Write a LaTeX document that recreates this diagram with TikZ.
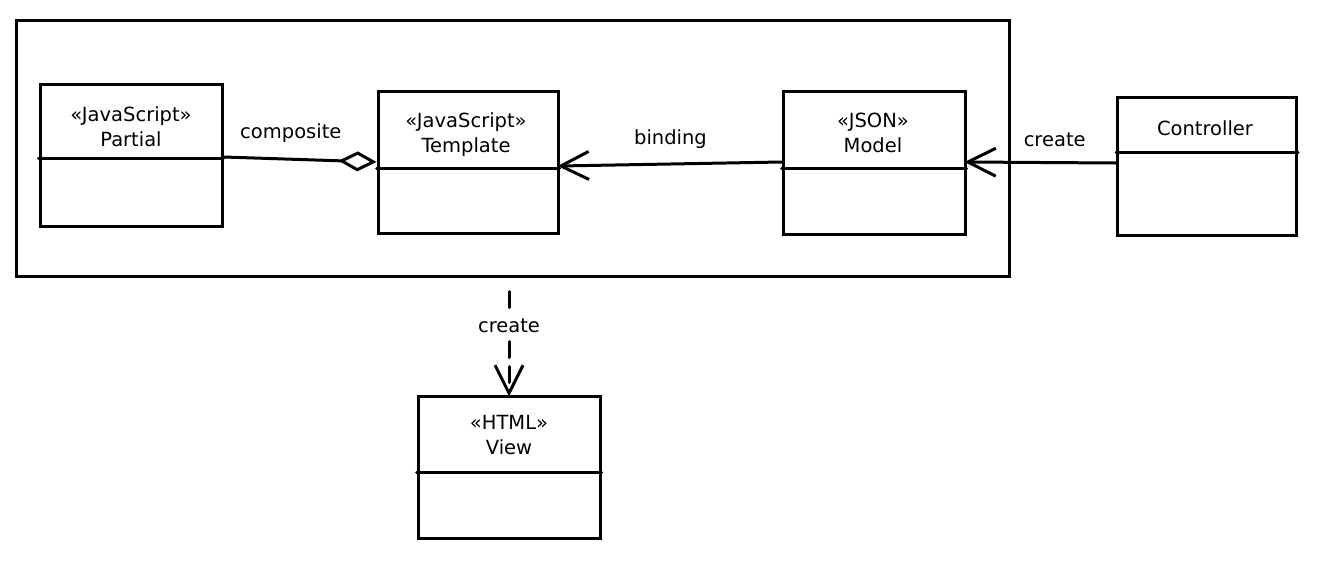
\documentclass[tikz,border=0pt]{standalone}
\usepackage{fontspec}
\setmainfont{DejaVu Sans}
\usetikzlibrary{arrows.meta, positioning}

\begin{document}
\begin{tikzpicture}[x=1pt, y=-1pt, line width=3pt, line cap=round,
    classbox/.style={draw, minimum width=182pt, minimum height=142pt, inner sep=0pt},
    classname/.style={align=center, font=\fontsize{19.5}{25}\selectfont, inner sep=0pt},
    linklabel/.style={font=\fontsize{19.5}{22}\selectfont, inner sep=2pt},
    openarrow/.style={-{Straight Barb[length=28pt, width=28pt]}, shorten >=-2pt},
    aggregation/.style={-{Diamond[open, length=38pt, width=20pt]}}]
\useasboundingbox (0,0) rectangle (1320,568);

% package frame
\node[draw, minimum width=993pt, minimum height=256pt] (frame) at (513,148) {};

% classes
\node[classbox] (partial) at (131,155) {};
\node[classbox, minimum width=180pt] (template) at (468,162) {};
\node[classbox, minimum height=143pt] (model) at (874,163) {};
\node[classbox, minimum width=179pt, minimum height=138pt] (controller) at (1207,166) {};
\node[classbox] (view) at (509,467) {};

\node[classname] (partialname) at (131,127) {«JavaScript»\\Partial};
\node[classname] (templatename) at (466,135) {«JavaScript»\\Template};
\node[classname] (modelname) at (873,133) {«JSON»\\Model};
\node[classname] (controllername) at (1205,128) {Controller};
\node[classname] (viewname) at (509,435) {«HTML»\\View};

\foreach \cls/\ysplit in {partial/158, template/168, model/168, controller/152, view/472}
  \draw (\cls.west |- 0,\ysplit) -- (\cls.east |- 0,\ysplit);

% relations
\draw[aggregation] (partial.east |- 0,157) -- node[linklabel, pos=0.44, above=13pt] {composite} (template.west |- 0,162);
\draw[openarrow] (model.west |- 0,162) -- node[linklabel, midway, above=12pt] {binding} (template.east |- 0,166);
\draw[openarrow] (controller.west |- 0,163) -- node[linklabel, pos=0.41, above=12pt] {create} (model.east |- 0,162);
\draw[openarrow, dash pattern=on 16pt off 9pt, shorten <=14pt] (frame.south -| view.north) -- node[linklabel, fill=white, inner ysep=6pt, pos=0.41] {create} (view.north);
\end{tikzpicture}
\end{document}
